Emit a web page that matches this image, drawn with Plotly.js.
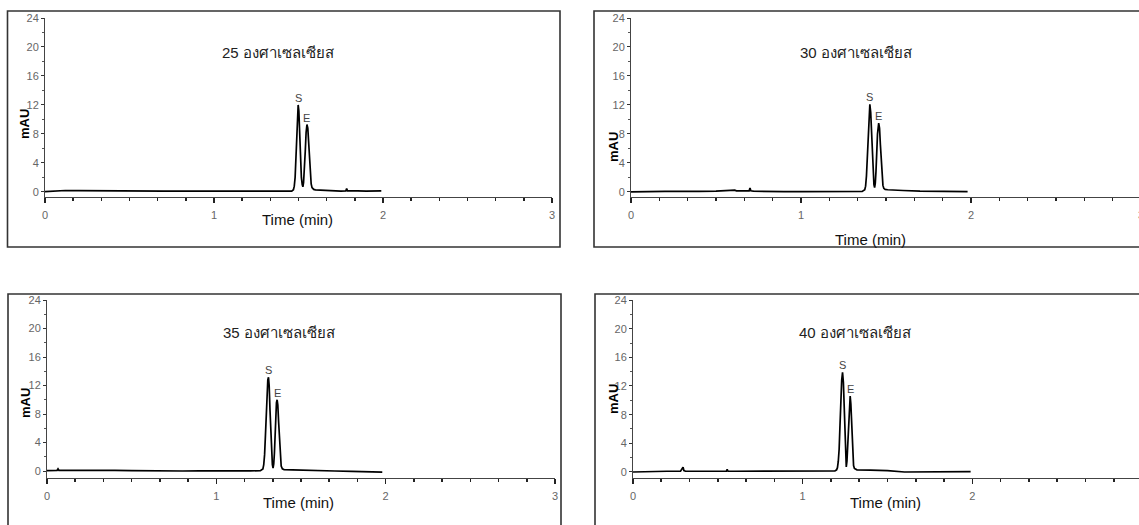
<!DOCTYPE html>
<html>
<head>
<meta charset="utf-8">
<script src="https://cdn.plot.ly/plotly-3.0.1.min.js"></script>
<style>
html,body{margin:0;padding:0;overflow:hidden;background:#fff;width:1139px;height:525px;}
#chart{width:1160px;height:525px;}
</style>
</head>
<body>
<div id="chart"></div>
<script>
// ---- Data ----
const panelTitles = ["25 องศาเซลเซียส", "30 องศาเซลเซียส", "35 องศาเซลเซียส", "40 องศาเซลเซียส"];
const peakLabels = ["S", "E"];
const xTickVals = [0, 1, 2, 3];
const yTickVals = [0, 4, 8, 12, 16, 20, 24];

const t25 = [0.00,0.03,0.06,0.09,0.12,0.2,0.3,0.4,0.45,0.55,0.7,0.85,1.0,1.15,1.3,1.4,1.46,1.47,1.475,1.48,1.485,1.49,1.495,1.498,1.502,1.507,1.512,1.517,1.522,1.526,1.530,1.535,1.540,1.545,1.550,1.555,1.560,1.565,1.570,1.575,1.580,1.590,1.60,1.65,1.7,1.75,1.78,1.785,1.79,1.82,1.85,1.9,1.95,1.99];
const a25 = [0.05,0.1,0.15,0.25,0.2,0.18,0.15,0.18,0.2,0.15,0.12,0.12,0.1,0.1,0.1,0.1,0.12,0.3,0.8,2.0,4.5,8.0,11.3,12.0,11.2,8.0,4.5,2.0,1.0,0.7,1.3,3.0,5.6,8.2,9.3,8.8,6.8,4.3,2.3,1.1,0.6,0.35,0.28,0.2,0.15,0.12,0.15,0.45,0.15,0.2,0.15,0.12,0.12,0.15];

const t30 = [0.00,0.05,0.1,0.2,0.3,0.4,0.5,0.6,0.61,0.62,0.68,0.695,0.70,0.705,0.72,0.8,0.9,1.0,1.1,1.2,1.3,1.36,1.375,1.38,1.385,1.39,1.395,1.40,1.405,1.41,1.415,1.42,1.425,1.429,1.433,1.437,1.441,1.445,1.45,1.457,1.462,1.467,1.472,1.477,1.482,1.487,1.495,1.51,1.55,1.6,1.7,1.8,1.9,1.98];
const a30 = [0.0,0.05,0.05,0.08,0.05,0.08,0.1,0.2,0.25,0.15,0.1,0.15,0.55,0.15,0.1,0.05,0.05,0.05,0.05,0.05,0.05,0.08,0.3,0.8,2.2,5.0,8.5,11.2,12.1,11.0,8.0,4.5,2.0,1.0,0.6,1.2,2.8,5.2,8.0,9.5,8.8,6.5,4.0,2.0,0.9,0.5,0.35,0.3,0.3,0.2,0.1,0.08,0.05,0.05];

const t35 = [0.00,0.03,0.06,0.065,0.07,0.1,0.2,0.3,0.4,0.5,0.6,0.7,0.8,0.9,1.0,1.1,1.2,1.26,1.275,1.28,1.285,1.29,1.295,1.30,1.304,1.308,1.312,1.317,1.322,1.327,1.331,1.335,1.339,1.343,1.347,1.351,1.355,1.359,1.363,1.368,1.373,1.378,1.383,1.39,1.4,1.45,1.5,1.6,1.7,1.8,1.85,1.9,1.95,1.98];
const a35 = [0.05,0.1,0.1,0.3,0.1,0.08,0.1,0.12,0.08,0.05,0.0,0.02,0.0,0.02,0.0,0.0,0.02,0.05,0.3,0.9,2.3,5.0,8.5,11.5,12.8,13.15,12.0,8.5,4.8,2.0,0.9,0.4,1.0,2.5,5.0,7.8,9.6,10.0,9.3,6.8,4.0,1.8,0.7,0.3,0.2,0.15,0.1,0.05,0.0,-0.05,-0.1,-0.15,-0.15,-0.15];

const t40 = [0.00,0.05,0.1,0.2,0.28,0.295,0.30,0.31,0.35,0.4,0.5,0.55,0.555,0.56,0.6,0.7,0.8,0.9,1.0,1.1,1.15,1.19,1.2,1.205,1.21,1.215,1.22,1.225,1.23,1.235,1.24,1.245,1.25,1.254,1.257,1.261,1.265,1.269,1.273,1.277,1.28,1.284,1.288,1.292,1.296,1.30,1.305,1.32,1.4,1.5,1.6,1.7,1.8,1.9,1.99];
const a40 = [0.0,0.05,0.1,0.1,0.1,0.65,0.2,0.1,0.1,0.1,0.1,0.1,0.35,0.1,0.1,0.1,0.05,0.05,0.1,0.1,0.1,0.15,0.3,0.6,1.5,3.2,6.5,10.0,12.8,13.9,12.5,9.0,5.0,2.5,0.7,1.5,3.5,6.5,9.2,10.5,10.6,9.5,6.8,4.0,2.0,0.9,0.5,0.3,0.25,0.2,0.0,0.0,0.05,0.05,0.05];

const times = [t25, t30, t35, t40];
const signals = [a25, a30, a35, a40];

// ---- Layout geometry (pixels) ----
const W = 1160, H = 525;
const px = v => v / W;
const py = v => 1 - v / H;

const panels = [
  {x0:45,  x1:552,  yTop:18,  yBot:197, yMin:-0.7, box:[7.5,11,560,247],
   title:[278,52], xt:[297,219], yt:[25,124], xticks:xTickVals},
  {x0:631, x1:1141, yTop:18,  yBot:197, yMin:-0.7, box:[594,11,1147,247],
   title:[856,52], xt:[870,239], yt:[613,147], xticks:xTickVals},
  {x0:47,  x1:555,  yTop:300, yBot:478, yMin:-0.98, box:[8,294,561,560],
   title:[279,333], xt:[298,502], yt:[25,403], xticks:xTickVals},
  {x0:633, x1:1142, yTop:300, yBot:478, yMin:-0.84, box:[595,294,1148,560],
   title:[855,333], xt:[885,502], yt:[613,399], xticks:xTickVals.slice(0, 3)}
];

const FONT = "Liberation Sans, Arial, sans-serif";
const traces = [];
const layout = {
  width: W, height: H,
  margin: {l:0, r:0, t:0, b:0},
  paper_bgcolor: "#fff", plot_bgcolor: "#fff",
  showlegend: false,
  shapes: [], annotations: []
};

panels.forEach((p, i) => {
  const n = i + 1;
  const xa = "xaxis" + (n === 1 ? "" : n);
  const ya = "yaxis" + (n === 1 ? "" : n);
  const xr = "x" + (n === 1 ? "" : n);
  const yr = "y" + (n === 1 ? "" : n);

  traces.push({
    x: times[i], y: signals[i], xaxis: xr, yaxis: yr,
    type: "scatter", mode: "lines",
    line: {color: "#000", width: 1.7},
    hoverinfo: "skip"
  });

  layout[xa] = {
    domain: [px(p.x0), px(p.x1)], anchor: yr,
    range: [0, 3], showgrid: false, zeroline: false,
    showline: true, linecolor: "#444", linewidth: 1,
    ticks: "outside", ticklen: 5, tickcolor: "#222", tickwidth: 1.2,
    tickvals: p.xticks,
    tickfont: {family: FONT, size: 11, color: "#666"},
    minor: {dtick: 1/6, ticks: "outside", ticklen: 3, tickcolor: "#222", tickwidth: 1.6, showgrid: false},
    ticklabelstandoff: 3,
    fixedrange: true
  };
  layout[ya] = {
    domain: [py(p.yBot), py(p.yTop)], anchor: xr,
    range: [p.yMin, 24], showgrid: false, zeroline: false,
    showline: true, linecolor: "#444", linewidth: 1,
    ticks: "outside", ticklen: 3, tickcolor: "#333", tickwidth: 1,
    tickvals: yTickVals,
    tickfont: {family: FONT, size: 11, color: "#666"},
    minor: {dtick: 2, tick0: 0, ticks: "outside", ticklen: 2, tickcolor: "#555", showgrid: false},
    ticklabelstandoff: 0,
    fixedrange: true
  };

  // panel frame
  layout.shapes.push({
    type: "rect", xref: "paper", yref: "paper",
    x0: px(p.box[0]), x1: px(p.box[2]), y0: py(p.box[3]), y1: py(p.box[1]),
    line: {color: "#333", width: 1.6}, fillcolor: "rgba(0,0,0,0)"
  });

  // texts
  layout.annotations.push({
    xref: "paper", yref: "paper", x: px(p.title[0]), y: py(p.title[1]),
    xanchor: "center", yanchor: "middle", showarrow: false,
    text: panelTitles[i], font: {family: FONT, size: 15, color: "#222"}
  });
  layout.annotations.push({
    xref: "paper", yref: "paper", x: px(p.xt[0]), y: py(p.xt[1]),
    xanchor: "center", yanchor: "middle", showarrow: false,
    text: "Time (min)", font: {family: FONT, size: 15, color: "#111"}
  });
  layout.annotations.push({
    xref: "paper", yref: "paper", x: px(p.yt[0]), y: py(p.yt[1]),
    xanchor: "center", yanchor: "middle", showarrow: false, textangle: -90,
    text: "<b>mAU</b>", font: {family: FONT, size: 13, color: "#000"}
  });

  // peak labels derived from the data
  const t = times[i], a = signals[i];
  let sIdx = 0;
  a.forEach((v, k) => { if (v > a[sIdx]) sIdx = k; });
  let eIdx = -1;
  a.forEach((v, k) => { if (t[k] > t[sIdx] + 0.03 && (eIdx < 0 || v > a[eIdx])) eIdx = k; });
  [[sIdx, peakLabels[0]], [eIdx, peakLabels[1]]].forEach(([k, lab]) => {
    layout.annotations.push({
      xref: xr, yref: yr, x: t[k], y: a[k],
      xanchor: "center", yanchor: "bottom", yshift: -1, showarrow: false,
      text: lab, font: {family: FONT, size: 11, color: "#444"}
    });
  });
});

Plotly.newPlot("chart", traces, layout, {staticPlot: true, displayModeBar: false});
</script>
</body>
</html>
